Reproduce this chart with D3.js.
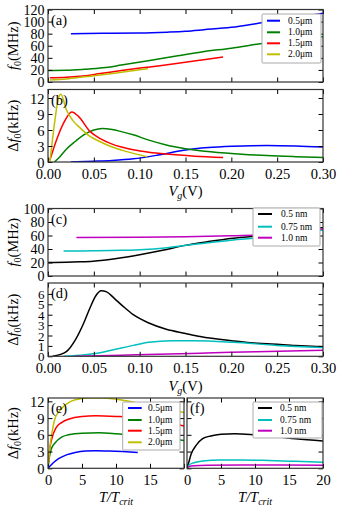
<!DOCTYPE html>
<html><head><meta charset="utf-8">
<script src="https://cdn.jsdelivr.net/npm/d3@7"></script>
<style>
body{margin:0;background:#fff;}
svg{display:block;}
text{font-family:"Liberation Serif","Times New Roman",serif;fill:#000;}
</style></head>
<body><svg id="c" width="340" height="510"></svg>
<script>
// ---------- DATA ----------
const vgTicks = [0,0.05,0.10,0.15,0.20,0.25,0.30];
const ttTicks = [0,5,10,15,20];
const ticksA = [0,20,40,60,80,100,120];
const ticksB = [0,3,6,9,12];
const ticksC = [0,20,40,60,80,100];
const ticksD = [0,1,2,3,4,5,6];
const ticksE = [0,3,6,9,12];

const widthLabels = ["0.5\u03bcm","1.0\u03bcm","1.5\u03bcm","2.0\u03bcm"];
const thickLabels = ["0.5 nm","0.75 nm","1.0 nm"];

// (a) f0 vs Vg, per width
const a05 = [[0.025,80],[0.06,80.5],[0.1,81],[0.13,82.5],[0.15,84],[0.17,86.5],[0.2,90.5],[0.233,98],[0.26,104],[0.28,109],[0.3,114]];
const a10 = [[0,19],[0.02,19.3],[0.04,21],[0.06,23.5],[0.08,28],[0.111,35.5],[0.14,43],[0.169,50],[0.2,56],[0.235,64],[0.26,69],[0.3,75]];
const a15 = [[0.002,7],[0.02,7.8],[0.035,9.5],[0.057,14],[0.08,19],[0.111,25],[0.14,30.5],[0.166,36],[0.191,41.5]];
const a20 = [[0.002,3.5],[0.02,5],[0.04,8.5],[0.057,11.5],[0.08,16],[0.109,22]];

// (b) Δf0 vs Vg, per width
const b05 = [[0.025,0],[0.05,0.15],[0.07,0.3],[0.093,0.6],[0.12,1.3],[0.148,2.2],[0.175,2.7],[0.202,2.95],[0.239,3.1],[0.27,3.0],[0.3,2.8]];
const b10 = [[0.007,0],[0.013,1],[0.02,2.4],[0.03,3.9],[0.039,5.1],[0.05,6],[0.059,6.3],[0.07,6.1],[0.08,5.7],[0.093,5.1],[0.11,4.1],[0.129,3.2],[0.15,2.5],[0.166,2.1],[0.2,1.6],[0.239,1.2],[0.27,1.0],[0.3,0.85]];
const b15 = [[0.002,0.3],[0.009,4],[0.017,7.3],[0.026,9.4],[0.033,8.6],[0.046,5.7],[0.057,4.4],[0.068,3.5],[0.08,2.8],[0.093,2.3],[0.11,1.85],[0.129,1.5],[0.16,1.1],[0.191,0.85]];
const b20 = [[0.002,0],[0.004,2.9],[0.0076,7.9],[0.011,11.7],[0.014,12.7],[0.02,9.8],[0.027,7.8],[0.035,6.4],[0.045,4.9],[0.057,3.8],[0.07,2.8],[0.086,1.95],[0.108,1.0]];

// (c) f0 vs Vg, per thickness
const c05 = [[0,20],[0.02,20.3],[0.035,21],[0.049,22],[0.075,26],[0.1,31.5],[0.125,38],[0.148,45],[0.175,51],[0.202,56],[0.225,59],[0.25,62],[0.275,67],[0.3,72]];
const c075 = [[0.017,37],[0.05,37.3],[0.08,38],[0.1,39],[0.13,42],[0.16,47],[0.202,53.5],[0.25,59],[0.275,63],[0.3,68]];
const c10 = [[0.031,57],[0.1,57.3],[0.15,58],[0.2,59.5],[0.25,62],[0.275,65],[0.3,70]];

// (d) Δf0 vs Vg, per thickness
const d05 = [[0.005,0],[0.02,0.45],[0.03,1.6],[0.039,3.2],[0.046,4.7],[0.052,5.8],[0.058,6.3],[0.064,6.2],[0.072,5.6],[0.082,4.8],[0.093,4.0],[0.11,3.2],[0.129,2.6],[0.15,2.2],[0.166,1.9],[0.2,1.5],[0.239,1.2],[0.27,1.05],[0.3,0.93]];
const d075 = [[0.017,0],[0.04,0.15],[0.057,0.35],[0.075,0.7],[0.093,1.05],[0.11,1.35],[0.135,1.5],[0.16,1.5],[0.202,1.35],[0.25,1.05],[0.3,0.85]];
const d10 = [[0.03,0],[0.08,0.1],[0.12,0.2],[0.166,0.3],[0.2,0.38],[0.24,0.47],[0.3,0.58]];

// (e) Δf0 vs T/Tcrit, per width
const e05 = [[0,0],[0.3,0.4],[0.7,0.9],[1.5,1.7],[2.7,2.4],[4,2.85],[5.5,3.1],[7,3.15],[9,3.1],[11,3.0],[13.2,2.85]];
const e10 = [[0,0],[0.2,2],[0.5,3.5],[1,4.5],[2,5.6],[3,6.0],[5,6.3],[7.5,6.35],[10,6.2],[13,5.9],[16,5.5],[20,5.0]];
const e15 = [[0,0],[0.2,3],[0.5,5],[1.2,7.3],[2,8.2],[3,8.8],[5,9.3],[7,9.4],[10,9.3],[13,9.1],[16,8.6],[20,7.6]];
const e20 = [[0,0],[0.3,4],[0.6,6.5],[1,8.8],[1.7,10.3],[2.7,11.5],[4,12.3],[6,12.6],[8,12.6],[11,12.2],[15,11.2],[20,10.0]];

// (f) Δf0 vs T/Tcrit, per thickness
const f05 = [[0,0],[0.2,0.8],[0.6,2.5],[1.4,4.2],[2.3,5.3],[3.5,5.8],[5,6.1],[7,6.2],[10,6.0],[13,5.7],[16,5.3],[20,4.9]];
const f075 = [[0,0],[0.3,0.6],[1,1.0],[2.3,1.3],[4.8,1.5],[8,1.5],[12,1.4],[16,1.25],[20,1.1]];
const f10 = [[0,0],[0.3,0.3],[1,0.45],[3,0.55],[8,0.6],[14,0.6],[20,0.55]];

const widthColors = ["#0000ff","#008000","#ff0000","#bfbf00"];
const thickColors = ["#000000","#00bfbf","#bf00bf"];

// ---------- DRAW ----------
const svg = d3.select("#c");
let clipId = 0;

function mathLabel(sel, kind){
  if(kind==="f0MHz"){
    sel.append("tspan").attr("font-style","italic").text("f");
    sel.append("tspan").attr("font-size","10px").attr("dy","3").text("0");
    sel.append("tspan").attr("dy","-3").text("(MHz)");
  } else if(kind==="df0kHz"){
    sel.append("tspan").text("\u0394");
    sel.append("tspan").attr("font-style","italic").text("f");
    sel.append("tspan").attr("font-size","10px").attr("dy","3").text("0");
    sel.append("tspan").attr("dy","-3").text("(kHz)");
  } else if(kind==="Vg"){
    sel.append("tspan").attr("font-style","italic").text("V");
    sel.append("tspan").attr("font-style","italic").attr("font-size","10px").attr("dy","3").text("g");
    sel.append("tspan").attr("dy","-3").text("(V)");
  } else if(kind==="TT"){
    sel.append("tspan").attr("font-style","italic").text("T/T");
    sel.append("tspan").attr("font-style","italic").attr("font-size","10px").attr("dy","3").text("crit");
  }
}

function panel(o){
  const x = d3.scaleLinear().domain(o.xd).range([o.x0,o.x1]);
  const y = d3.scaleLinear().domain(o.yd).range([o.y1,o.y0]);
  const g = svg.append("g");
  const id = "clip"+(clipId++);
  svg.append("clipPath").attr("id",id).append("rect")
    .attr("x",o.x0).attr("y",o.y0).attr("width",o.x1-o.x0).attr("height",o.y1-o.y0);
  const line = d3.line().x(d=>x(d[0])).y(d=>y(d[1])).curve(d3.curveMonotoneX);
  const cg = g.append("g").attr("clip-path",`url(#${id})`);
  o.series.forEach((s,i)=>{
    cg.append("path").attr("d",line(s)).attr("fill","none")
      .attr("stroke",o.colors[i]).attr("stroke-width",1.5);
  });
  const tl = 4.5;
  const axB = d3.axisBottom(x).tickValues(o.xt).tickSizeInner(-tl).tickSizeOuter(0)
    .tickFormat(o.xlab ? o.xfmt : "");
  const axT = d3.axisTop(x).tickValues(o.xt).tickSizeInner(-tl).tickSizeOuter(0).tickFormat("");
  const axL = d3.axisLeft(y).tickValues(o.yt).tickSizeInner(-tl).tickSizeOuter(0)
    .tickFormat(o.ylab ? d3.format("d") : "");
  const axR = d3.axisRight(y).tickValues(o.yt).tickSizeInner(-tl).tickSizeOuter(0).tickFormat("");
  const gb = g.append("g").attr("transform",`translate(0,${o.y1})`).call(axB);
  const gt = g.append("g").attr("transform",`translate(0,${o.y0})`).call(axT);
  const gl = g.append("g").attr("transform",`translate(${o.x0},0)`).call(axL);
  const gr = g.append("g").attr("transform",`translate(${o.x1},0)`).call(axR);
  [gb,gt,gl,gr].forEach(a=>{
    a.select(".domain").remove();
    a.selectAll(".tick line").attr("stroke","#000").attr("stroke-width",1);
    a.selectAll("text").attr("font-family","Liberation Serif, serif").attr("font-size",(o.tfs||14.5)+"px").attr("fill","#000");
  });
  gb.selectAll("text").attr("font-size","14.5px").attr("dy","0").attr("y",17);
  gl.selectAll("text").attr("x",-3.5).attr("dy","0.35em");
  g.append("rect").attr("x",o.x0).attr("y",o.y0).attr("width",o.x1-o.x0).attr("height",o.y1-o.y0)
    .attr("fill","none").attr("stroke","#333").attr("stroke-width",1.2);
  g.append("text").attr("x",o.x0+3).attr("y",o.y0+15).attr("font-size","14.5px").text(o.letter);
  if(o.ylabel){
    const t = g.append("text").attr("font-size","14.5px").attr("text-anchor","middle")
      .attr("transform",`translate(18,${(o.y0+o.y1)/2}) rotate(-90)`);
    mathLabel(t,o.ylabel);
  }
  if(o.xlabel){
    const t = g.append("text").attr("font-size","14.5px").attr("text-anchor","middle")
      .attr("x",(o.x0+o.x1)/2).attr("y",o.xlabelY);
    mathLabel(t,o.xlabel);
  }
  if(o.legend){
    const L = o.legend;
    g.append("rect").attr("x",L.x0).attr("y",L.y0).attr("width",L.x1-L.x0).attr("height",L.y1-L.y0)
      .attr("fill","#fff").attr("stroke","#aaa").attr("stroke-width",1).attr("rx",1);
    L.labels.forEach((lab,i)=>{
      const yy = L.ys[i];
      g.append("line").attr("x1",L.lx0).attr("x2",L.lx1).attr("y1",yy).attr("y2",yy)
        .attr("stroke",o.colors[i]).attr("stroke-width",2);
      g.append("text").attr("x",L.tx).attr("y",yy).attr("dy","0.33em").attr("font-size","9.5px").text(lab);
    });
  }
  return {x,y};
}

const fmt2 = d3.format(".2f");
const fmt0 = d3.format("d");

panel({x0:48,x1:323,y0:9.5,y1:82,xd:[0,0.3],yd:[0,120],xt:vgTicks,yt:ticksA,xlab:false,ylab:true,tfs:14,
  series:[a05,a10,a15,a20],colors:widthColors,letter:"(a)",ylabel:"f0MHz",
  legend:{x0:262,x1:321,y0:14,y1:63,ys:[20.7,32.3,43.3,54.3],lx0:267,lx1:280,tx:288,labels:widthLabels}});

panel({x0:48,x1:323,y0:89.5,y1:162,xd:[0,0.3],yd:[0,13.6],xt:vgTicks,yt:ticksB,xlab:true,xfmt:fmt2,ylab:true,
  series:[b05,b10,b15,b20],colors:widthColors,letter:"(b)",ylabel:"df0kHz",xlabel:"Vg",xlabelY:196});

panel({x0:48,x1:323,y0:208.5,y1:276,xd:[0,0.3],yd:[0,100],xt:vgTicks,yt:ticksC,xlab:false,ylab:true,tfs:14,
  series:[c05,c075,c10],colors:thickColors,letter:"(c)",ylabel:"f0MHz",
  legend:{x0:253,x1:320,y0:208,y1:246,ys:[214,226.7,237.7],lx0:258,lx1:272,tx:281,labels:thickLabels}});

panel({x0:48,x1:323,y0:283,y1:356.3,xd:[0,0.3],yd:[0,7.05],xt:vgTicks,yt:ticksD,xlab:true,xfmt:fmt2,ylab:true,tfs:13,
  series:[d05,d075,d10],colors:thickColors,letter:"(d)",ylabel:"df0kHz",xlabel:"Vg",xlabelY:391});

panel({x0:48,x1:184,y0:398,y1:468.3,xd:[0,20],yd:[0,12.6],xt:ttTicks,yt:ticksE,xlab:true,
  xfmt:(d)=> d===20 ? "" : fmt0(d),ylab:true,
  series:[e05,e10,e15,e20],colors:widthColors,letter:"(e)",ylabel:"df0kHz",xlabel:"TT",xlabelY:502,
  legend:{x0:122.7,x1:180,y0:402,y1:450,ys:[408,420,430.7,442.3],lx0:128,lx1:141.7,tx:148,labels:widthLabels}});

panel({x0:187,x1:323,y0:398,y1:468.3,xd:[0,20],yd:[0,12.6],xt:ttTicks,yt:ticksE,xlab:true,xfmt:fmt0,ylab:false,
  series:[f05,f075,f10],colors:thickColors,letter:"(f)",xlabel:"TT",xlabelY:502,
  legend:{x0:253,x1:322,y0:402,y1:438,ys:[408,420,430.7],lx0:258,lx1:272,tx:280,labels:thickLabels}});
</script></body></html>
